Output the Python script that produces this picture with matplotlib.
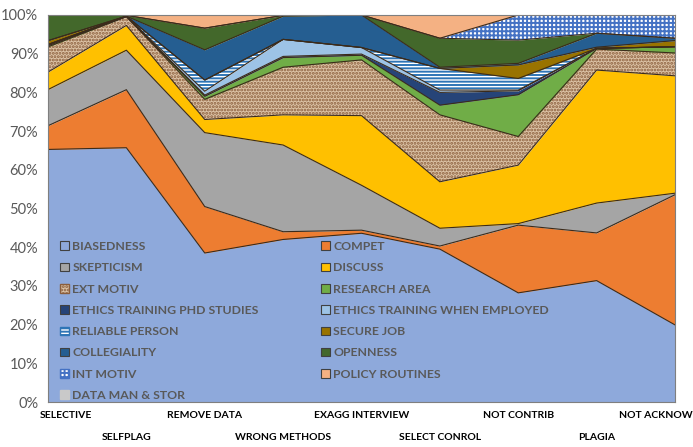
import matplotlib
matplotlib.use('Agg')
import matplotlib.pyplot as plt
import numpy as np
from matplotlib.patches import Patch

plt.rcParams['font.family'] = ['Lato', 'DejaVu Sans']
plt.rcParams['hatch.linewidth'] = 1.4

categories = ['SELECTIVE', 'SELFPLAG', 'REMOVE DATA', 'WRONG METHODS', 'EXAGG INTERVIEW',
              'SELECT CONROL', 'NOT CONTRIB', 'PLAGIA', 'NOT ACKNOW']

# shares per category, bottom layer first (%)
biasedness = [65.0, 65.7, 38.5, 42.0, 43.6, 39.5, 28.2, 31.3, 19.9]
compet = [6.1, 15.0, 12.0, 2.0, 0.8, 0.8, 17.5, 12.3, 33.6]
skepticism = [9.3, 10.2, 19.1, 22.4, 11.6, 4.6, 0.4, 7.7, 0.4]
discuss = [4.5, 6.4, 3.4, 7.8, 18.0, 12.0, 15.1, 34.3, 30.3]
ext_motiv = [6.5, 2.3, 5.2, 12.3, 14.4, 17.3, 7.4, 5.4, 5.9]
research_area = [0.3, 0.0, 0.8, 2.5, 1.2, 2.5, 10.8, 0.2, 1.6]
ethics_phd = [0.3, 0.1, 0.3, 0.3, 0.3, 3.3, 1.0, 0.0, 0.0]
ethics_employed = [0.0, 0.0, 1.0, 4.4, 1.7, 0.6, 0.2, 0.0, 0.0]
reliable_person = [0.0, 0.0, 2.9, 0.0, 0.0, 5.6, 3.0, 0.0, 0.0]
secure_job = [1.0, 0.0, 0.0, 0.0, 0.0, 0.0, 3.5, 0.3, 1.6]
collegiality = [0.0, 0.0, 7.8, 6.0, 8.4, 0.3, 0.4, 3.6, 0.6]
openness = [6.6, 0.2, 5.6, 0.2, 0.0, 7.5, 6.0, 0.0, 0.0]
int_motiv = [0.0, 0.0, 0.0, 0.0, 0.0, 0.0, 6.5, 4.7, 6.0]
policy_routines = [0.0, 0.0, 3.4, 0.0, 0.0, 6.0, 0.0, 0.0, 0.0]
data_man = [0.0, 0.1, 0.0, 0.1, 0.0, 0.0, 0.0, 0.0, 0.0]

# name, values, face, hatch, hatch colour
series = [
    ('BIASEDNESS', biasedness, '#8EA9DB', None, None),
    ('COMPET', compet, '#ED7D31', None, None),
    ('SKEPTICISM', skepticism, '#A5A5A5', None, None),
    ('DISCUSS', discuss, '#FFC000', None, None),
    ('EXT MOTIV', ext_motiv, '#DCC3A6', '.....', '#8B5E3C'),
    ('RESEARCH AREA', research_area, '#70AD47', None, None),
    ('ETHICS TRAINING PHD STUDIES', ethics_phd, '#264478', None, None),
    ('ETHICS TRAINING WHEN EMPLOYED', ethics_employed, '#9DC3E6', None, None),
    ('RELIABLE PERSON', reliable_person, '#FFFFFF', '-----', '#2E75B6'),
    ('SECURE JOB', secure_job, '#997300', None, None),
    ('COLLEGIALITY', collegiality, '#255E91', None, None),
    ('OPENNESS', openness, '#43682B', None, None),
    ('INT MOTIV', int_motiv, '#FFFFFF', '++++', '#4472C4'),
    ('POLICY ROUTINES', policy_routines, '#F4B183', None, None),
    ('DATA MAN & STOR', data_man, '#C9C9C9', None, None),
]

vals = np.array([s[1] for s in series], dtype=float)
vals = vals / vals.sum(axis=0) * 100
tops = np.cumsum(vals, axis=0)
x = np.arange(len(categories))

fig = plt.figure(figsize=(6.93, 4.47), dpi=100)
ax = fig.add_axes([48/693, 1-402/447, 627/693, 387/447])

lower = np.zeros(len(categories))
for (name, v, face, hatch, hc), upper in zip(series, tops):
    if hatch:
        ax.fill_between(x, lower, upper, facecolor=face, hatch=hatch, edgecolor=hc, linewidth=0)
    else:
        ax.fill_between(x, lower, upper, facecolor=face, edgecolor=face, linewidth=0)
    lower = upper
for upper in tops[:-1]:
    ax.plot(x, upper, color='#3B2B1B', lw=0.8)

ax.set_xlim(0, len(categories) - 1)
ax.set_ylim(0, 100)
ax.set_yticks(np.arange(0, 101, 10))
ax.set_yticklabels([f'{t}%' for t in range(0, 101, 10)])
ax.tick_params(axis='y', length=0, pad=7, labelsize=10.5, labelcolor='#595959')
ax.set_xticks([])
for sp in ax.spines.values():
    sp.set_color('#7F7F7F')
    sp.set_linewidth(0.8)

# two-row category labels
for i, lab in enumerate(categories):
    dy = -13 if i % 2 == 0 else -36
    ha, dx = 'center', 0
    if i == 0:
        ha, dx = 'left', -8
    elif i == len(categories) - 1:
        ha, dx = 'right', 18
    ax.annotate(lab, xy=(i, 0), xycoords=('data', 'axes fraction'), xytext=(dx, dy),
                textcoords='offset pixels', ha=ha, va='center',
                fontsize=7.5, fontweight='bold', color='black', annotation_clip=False)

handles = []
for name, v, face, hatch, hc in series:
    if name == 'DATA MAN & STOR':
        handles.append(Patch(facecolor=face, edgecolor=face, label=name))
    elif hatch:
        handles.append(Patch(facecolor=face, edgecolor=hc, hatch=hatch, label=name))
    else:
        handles.append(Patch(facecolor=face, edgecolor='#404040', lw=0.8, label=name))

leg_kw = dict(frameon=False, loc='upper left', bbox_transform=fig.transFigure,
              borderpad=0, borderaxespad=0, handlelength=0.7, handleheight=0.7,
              handletextpad=0.3, labelspacing=0.84, labelcolor='#595959',
              prop={'weight': 'bold', 'size': 8.8})
leg1 = ax.legend(handles=handles[0::2], bbox_to_anchor=(60/693, 1-241/447), **leg_kw)
ax.add_artist(leg1)
ax.legend(handles=handles[1::2], bbox_to_anchor=(321/693, 1-241/447), **leg_kw)

fig.savefig('out.png', dpi=100)
